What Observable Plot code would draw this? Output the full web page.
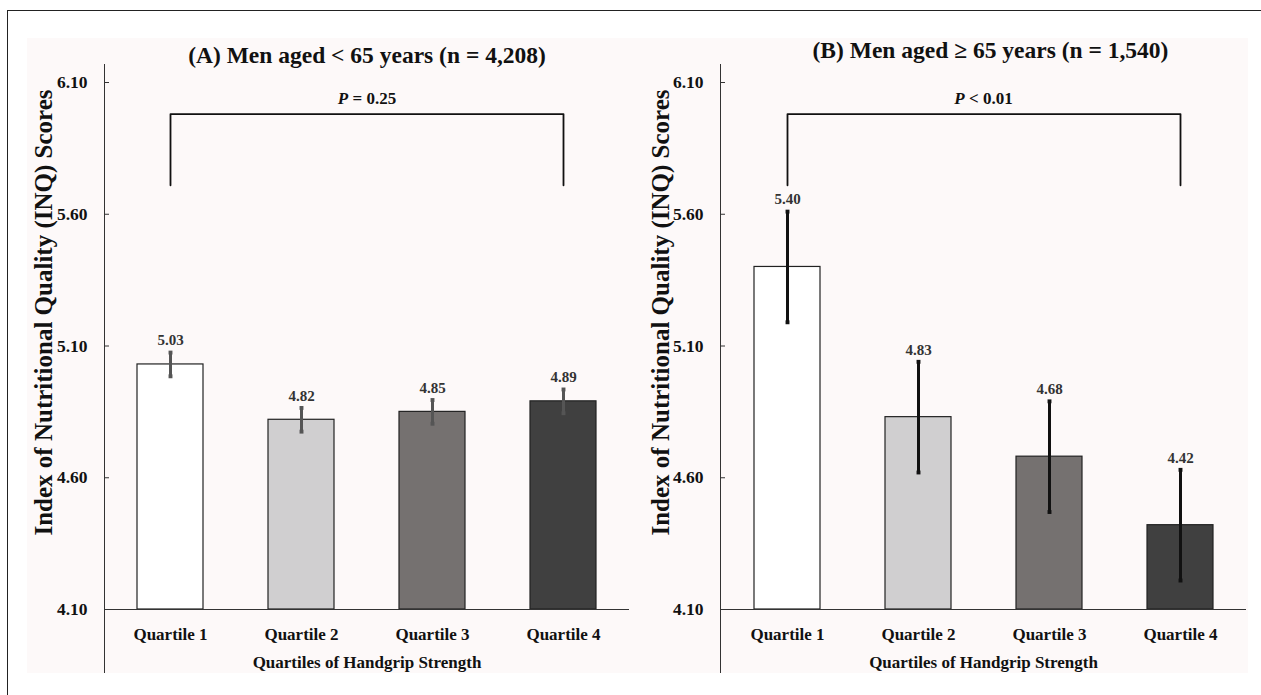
<!DOCTYPE html>
<html><head><meta charset="utf-8">
<script src="https://cdn.jsdelivr.net/npm/d3@7"></script>
<script src="https://cdn.jsdelivr.net/npm/@observablehq/plot@0.6"></script>
<style>
html,body{margin:0;padding:0;background:#fff;}
#wrap{position:relative;width:1261px;height:695px;overflow:hidden;}
#frame{position:absolute;left:7px;top:10px;right:-5px;bottom:-5px;border-top:1.5px solid #222;border-left:1.5px solid #222;}
#bg{position:absolute;left:27px;top:38px;width:1221px;height:635px;background:#fdf9f9;}
.panel{position:absolute;top:0;}
</style></head><body>
<div id="wrap"><div id="frame"></div><div id="bg"></div>
<div id="pa" class="panel" style="left:0px"></div>
<div id="pb" class="panel" style="left:615px"></div></div>
<script>
const quartiles = ["Quartile 1", "Quartile 2", "Quartile 3", "Quartile 4"];
const fills = ["#ffffff", "#d0cfd0", "#757170", "#404040"];
const yTicks = [4.10, 4.60, 5.10, 5.60, 6.10];
const meansA = [5.03, 4.82, 4.85, 4.89];
const lowA = [4.985, 4.775, 4.805, 4.845];
const highA = [5.075, 4.865, 4.895, 4.935];
const meansB = [5.40, 4.83, 4.68, 4.42];
const lowB = [5.19, 4.62, 4.47, 4.21];
const highB = [5.61, 5.04, 4.89, 4.63];
const titles = ["(A) Men aged < 65 years (n = 4,208)", "(B) Men aged \u2265 65 years (n = 1,540)"];
const pTexts = ["P = 0.25", "P < 0.01"];
const bracketTop = 5.98, bracketBottom = 5.71;
const yLabel = "Index of Nutritional Quality (INQ) Scores";
const xLabel = "Quartiles of Handgrip Strength";

function panel({el, width, marginLeft, marginRight, means, lows, highs, errColor, labelColor, title, pText, titleDx, titleDy, yLabelDx}) {
  const rows = quartiles.map((q, i) => ({q, mean: means[i], lo: lows[i], hi: highs[i], fill: fills[i]}));
  const bracket = [
    {q: quartiles[0], v: bracketBottom}, {q: quartiles[0], v: bracketTop},
    {q: quartiles[3], v: bracketTop}, {q: quartiles[3], v: bracketBottom}
  ];
  const chart = Plot.plot({
    width, height: 695, marginLeft, marginRight, marginTop: 64, marginBottom: 23,
    style: {fontFamily: "'Liberation Serif','Times New Roman',serif", fontWeight: "bold", background: "transparent", color: "#111", overflow: "visible"},
    x: {domain: quartiles, paddingInner: 0.5, paddingOuter: 0.25},
    y: {domain: [yTicks[0], yTicks[yTicks.length - 1]], range: [609, 82]},
    color: {type: "identity"},
    marks: [
      Plot.frame({anchor: "left", stroke: "#333"}),
      Plot.axisY({ticks: yTicks, tickFormat: d => d.toFixed(2), tickSize: -5, tickPadding: 22, fontSize: 17.5, stroke: "#333", fill: "#111", label: null}),
      Plot.axisX({tickSize: 0, tickPadding: 0, lineAnchor: "middle", dy: -38, fontSize: 17, fill: "#111", label: null}),
      Plot.barY(rows, {x: "q", y1: yTicks[0], y2: "mean", fill: "fill", stroke: "#222", strokeWidth: 1.2}),
      Plot.ruleY([yTicks[0]], {stroke: "#333"}),
      Plot.ruleX(rows, {x: "q", y1: "lo", y2: "hi", stroke: errColor, strokeWidth: 3}),
      Plot.dot(rows, {x: "q", y: "hi", symbol: "square", r: 2.2, fill: errColor}),
      Plot.dot(rows, {x: "q", y: "lo", symbol: "square", r: 2.2, fill: errColor}),
      Plot.text(rows, {x: "q", y: "hi", text: d => d.mean.toFixed(2), dy: -12, fontSize: 15, fill: labelColor}),
      Plot.line(bracket, {x: "q", y: "v", stroke: "#111", strokeWidth: 1.8}),
      Plot.text([pText], {frameAnchor: "top", lineAnchor: "middle", dy: 34, fontSize: 17, fill: "#111"}),
      Plot.text([title], {frameAnchor: "top", lineAnchor: "middle", dx: titleDx, dy: titleDy, fontSize: 23.5, fill: "#111"}),
      Plot.text([yLabel], {frameAnchor: "left", textAnchor: "middle", lineAnchor: "middle", rotate: -90, dx: yLabelDx, dy: -56, fontSize: 25, fill: "#111"}),
      Plot.text([xLabel], {frameAnchor: "bottom", lineAnchor: "middle", dy: -10, fontSize: 17, fill: "#111"})
    ]
  });
  const NS = "http://www.w3.org/2000/svg";
  chart.querySelectorAll("text").forEach(t => {
    if (t.textContent === pText) {
      const rest = pText.slice(1);
      t.textContent = "";
      const a = document.createElementNS(NS, "tspan");
      a.setAttribute("font-style", "italic");
      a.textContent = "P";
      const b = document.createElementNS(NS, "tspan");
      b.textContent = rest;
      t.appendChild(a); t.appendChild(b);
    }
  });
  document.getElementById(el).appendChild(chart);
}

panel({el: "pa", width: 640, marginLeft: 104, marginRight: 11, means: meansA, lows: lowA, highs: highA,
  errColor: "#555", labelColor: "#333", title: titles[0], pText: pTexts[0], titleDx: 0, titleDy: -9, yLabelDx: -61});
panel({el: "pb", width: 646, marginLeft: 105, marginRight: 15, means: meansB, lows: lowB, highs: highB,
  errColor: "#111", labelColor: "#333", title: titles[1], pText: pTexts[1], titleDx: 7, titleDy: -14, yLabelDx: -60});
</script>
</body></html>
